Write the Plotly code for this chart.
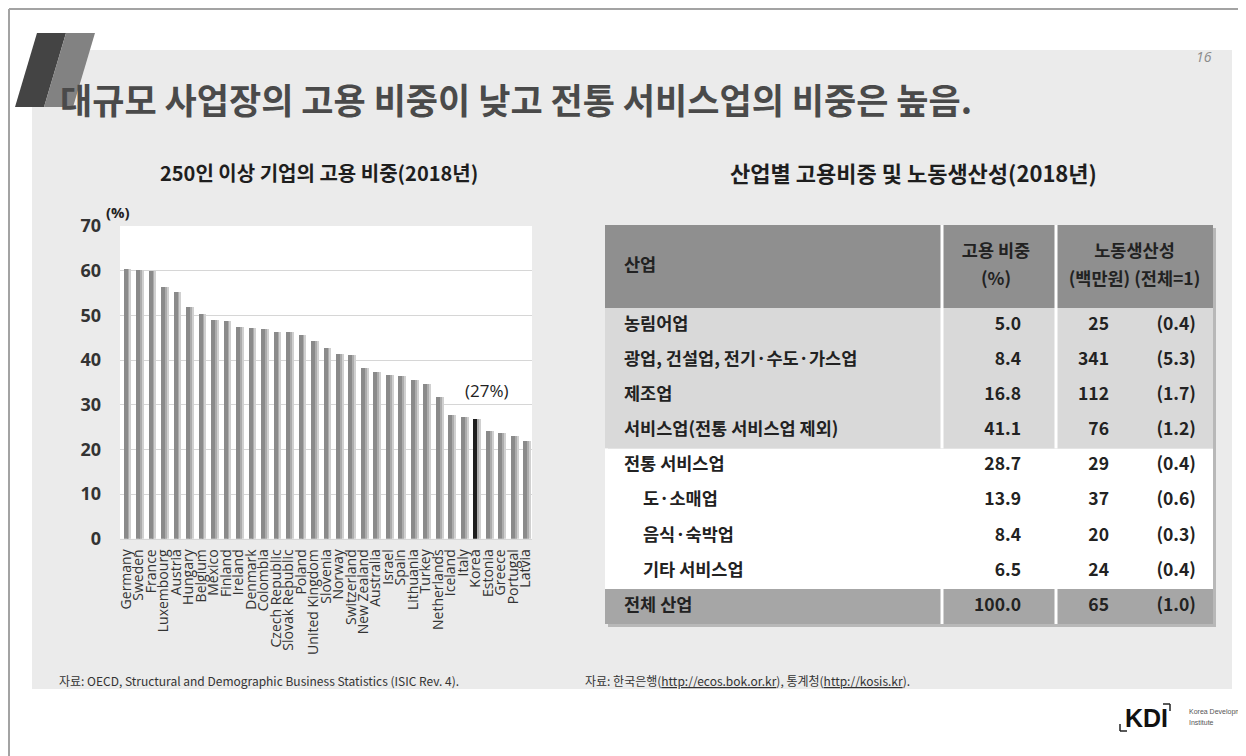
import plotly.graph_objects as go

W, H = 1246, 756
OX, OY = 8, 8   # page offset of the plot div in the browser window

# ---------------- data ----------------
countries = ["Germany", "Sweden", "France", "Luxembourg", "Austria", "Hungary", "Belgium",
             "Mexico", "Finland", "Ireland", "Denmark", "Colombia", "Czech Republic",
             "Slovak Republic", "Poland", "United Kingdom", "Slovenia", "Norway",
             "Switzerland", "New Zealand", "Australia", "Israel", "Spain", "Lithuania",
             "Turkey", "Netherlands", "Iceland", "Italy", "Korea", "Estonia", "Greece",
             "Portugal", "Latvia"]
shares = [60.4, 60.2, 60.0, 56.3, 55.2, 51.9, 50.2, 49.0, 48.7, 47.4, 47.2, 46.9, 46.3,
          46.3, 45.7, 44.3, 42.7, 41.3, 41.1, 38.3, 37.3, 36.6, 36.5, 35.5, 34.7, 31.8,
          27.8, 27.2, 26.9, 24.0, 23.6, 22.9, 21.8]
highlight = "Korea"
highlight_label = "(27%)"
y_ticks = [0, 10, 20, 30, 40, 50, 60, 70]

industries = ["농림어업", "광업, 건설업, 전기·수도·가스업", "제조업",
              "서비스업(전통 서비스업 제외)", "전통 서비스업", "도·소매업",
              "음식·숙박업", "기타 서비스업", "전체 산업"]
is_sub_row = [False, False, False, False, False, True, True, True, False]
emp_share = [5.0, 8.4, 16.8, 41.1, 28.7, 13.9, 8.4, 6.5, 100.0]
productivity = [25, 341, 112, 76, 29, 37, 20, 24, 65]
prod_ratio = [0.4, 5.3, 1.7, 1.2, 0.4, 0.6, 0.3, 0.4, 1.0]
header_first = "산업"
header_top = ["고용 비중", "노동생산성"]
header_bottom = ["(%)", "(백만원) (전체=1)"]

title = "대규모 사업장의 고용 비중이 낮고 전통 서비스업의 비중은 높음."
left_title = "250인 이상 기업의 고용 비중(2018년)"
right_title = "산업별 고용비중 및 노동생산성(2018년)"
left_source = "자료: OECD, Structural and Demographic Business Statistics (ISIC Rev. 4)."
right_source = ('자료: 한국은행(<span style="text-decoration:underline">http://ecos.bok.or.kr</span>), '
                '통계청(<span style="text-decoration:underline">http://kosis.kr</span>).')
page_no = "16"

# ---------------- helpers ----------------
KR = "Noto Sans CJK KR, Noto Sans, sans-serif"
LAT = "Open Sans, Noto Sans, sans-serif"


def fx(px):
    return (px - OX) / W


def fy(py):
    return 1 - (py - OY) / H


# plot area of the bar chart (window pixels)
PL, PR, PT, PB = 120, 532, 226, 538.7
# table area (window pixels)
TL, TR, TT, TB = 605, 1213, 225, 624
HEAD_B = 308
n_rows = len(industries)
row_h = (TB - HEAD_B) / n_rows
COL1, COL2 = 942, 1056

fig = go.Figure()

# bars: light shadow, mid shadow, main bar
fig.add_trace(go.Bar(x=countries, y=shares, offset=0.12, width=0.3,
                     marker=dict(color="#d0d0d0", line_width=0), hoverinfo="skip"))
fig.add_trace(go.Bar(x=countries, y=shares, offset=0.1, width=0.16,
                     marker=dict(color="#acacac", line_width=0), hoverinfo="skip"))
main_colors = ["#1e1e1e" if c == highlight else "#8a8a8a" for c in countries]
fig.add_trace(go.Bar(x=countries, y=shares, offset=-0.2, width=0.32,
                     marker=dict(color=main_colors, line_width=0)))

# ---------------- table text ----------------
row_y = [HEAD_B + row_h * (i + 0.5) for i in range(n_rows)]
txt_font = dict(family=KR, size=17.5, color="#222222", weight="bold")

fig.add_trace(go.Scatter(
    x=[643 if s else 624 for s in is_sub_row], y=row_y, mode="text",
    text=industries, textposition="middle right", textfont=txt_font,
    xaxis="x2", yaxis="y2", cliponaxis=False, hoverinfo="skip"))
fig.add_trace(go.Scatter(
    x=[1021] * n_rows, y=row_y, mode="text",
    text=[f"{v:.1f}" for v in emp_share], textposition="middle left", textfont=txt_font,
    xaxis="x2", yaxis="y2", cliponaxis=False, hoverinfo="skip"))
fig.add_trace(go.Scatter(
    x=[1109] * n_rows, y=row_y, mode="text",
    text=[f"{v}" for v in productivity], textposition="middle left", textfont=txt_font,
    xaxis="x2", yaxis="y2", cliponaxis=False, hoverinfo="skip"))
fig.add_trace(go.Scatter(
    x=[1196] * n_rows, y=row_y, mode="text",
    text=[f"({v:.1f})" for v in prod_ratio], textposition="middle left", textfont=txt_font,
    xaxis="x2", yaxis="y2", cliponaxis=False, hoverinfo="skip"))
# header
head_mid = (TT + HEAD_B) / 2
fig.add_trace(go.Scatter(
    x=[624], y=[head_mid], mode="text", text=[header_first], textposition="middle right",
    textfont=txt_font, xaxis="x2", yaxis="y2", cliponaxis=False, hoverinfo="skip"))
fig.add_trace(go.Scatter(
    x=[(COL1 + COL2) / 2 - 3, (COL2 + TR) / 2], y=[head_mid - 14, head_mid - 14], mode="text",
    text=header_top, textposition="middle center",
    textfont=txt_font, xaxis="x2", yaxis="y2", cliponaxis=False, hoverinfo="skip"))
fig.add_trace(go.Scatter(
    x=[(COL1 + COL2) / 2 - 3, (COL2 + TR) / 2], y=[head_mid + 14, head_mid + 14], mode="text",
    text=header_bottom, textposition="middle center",
    textfont=txt_font, xaxis="x2", yaxis="y2", cliponaxis=False, hoverinfo="skip"))

# ---------------- shapes ----------------
shapes = []


def rect(x0, y0, x1, y1, color):
    shapes.append(dict(type="rect", xref="paper", yref="paper", x0=fx(x0), x1=fx(x1),
                       y0=fy(y1), y1=fy(y0), fillcolor=color, line_width=0, layer="below"))


def line(x0, y0, x1, y1, color, w):
    shapes.append(dict(type="line", xref="paper", yref="paper", x0=fx(x0), x1=fx(x1),
                       y0=fy(y0), y1=fy(y1), line=dict(color=color, width=w), layer="below"))


def poly(pts, color):
    path = "M " + " L ".join(f"{fx(x)},{fy(y)}" for x, y in pts) + " Z"
    shapes.append(dict(type="path", xref="paper", yref="paper", path=path,
                       fillcolor=color, line_width=0, layer="below"))


rect(32, 50, 1232, 689, "#ebebeb")            # grey slide panel
rect(PL, PT, PR, PB, "#ffffff")               # chart plot area
rect(TL + 3, TT + 3, TR + 3, TB + 3, "#b8b8b8")  # table shadow
rect(TL, TT, TR, HEAD_B, "#8f8f8f")           # header
rect(TL, HEAD_B, TR, HEAD_B + 4 * row_h, "#d9d9d9")
rect(TL, HEAD_B + 4 * row_h, TR, HEAD_B + 8 * row_h, "#ffffff")
rect(TL, HEAD_B + 8 * row_h, TR, TB, "#a6a6a6")
for cx in (COL1, COL2):
    line(cx, TT, cx, HEAD_B + 4 * row_h, "#ffffff", 3)
    line(cx, HEAD_B + 8 * row_h, cx, TB, "#ffffff", 3)
# slanted title marks
poly([(37, 33), (66, 33), (44, 107), (15, 107)], "#444444")
poly([(66, 33), (95, 33), (73, 107), (44, 107)], "#828282")
# slide border
line(9, 9, W + OX, 9, "#a3a3a3", 2)
line(9, 9, 9, H + OY, "#a3a3a3", 2)
# KDI logo brackets
line(1163, 704, 1170, 704, "#222222", 1.5)
line(1170, 704, 1170, 711, "#222222", 1.5)
line(1120, 724, 1120, 731, "#222222", 1.5)
line(1120, 731, 1127, 731, "#222222", 1.5)

# ---------------- annotations ----------------
ann = []


def text(x, y, s, size, color="#222222", weight="normal", family=KR, xanchor="center",
         style="normal"):
    ann.append(dict(x=fx(x), y=fy(y), xref="paper", yref="paper", text=s, showarrow=False,
                    xanchor=xanchor, yanchor="middle",
                    font=dict(family=family, size=size, color=color, weight=weight,
                              style=style)))


text(58, 99, title, 35, "#4a4a4a", "bold", xanchor="left")
text(1204, 57, page_no, 14, "#8a8a8a", family=LAT, style="italic")
text(319, 172, left_title, 20, "#1e1e1e", "bold")
text(913, 172, right_title, 22, "#1e1e1e", "bold")
text(118, 212, "(%)", 15, "#222222", "bold", family=LAT)
text(57, 680, left_source, 12, "#333333", xanchor="left")
text(583, 680, right_source, 12, "#333333", xanchor="left")
text(1146, 718, "KDI", 25, "#111111", "bold", family="Liberation Sans, Arial, sans-serif")
text(1187, 712, "Korea Development", 7, "#555555", xanchor="left",
     family="Liberation Sans Narrow, Liberation Sans, sans-serif")
text(1187, 722, "Institute", 7, "#555555", xanchor="left",
     family="Liberation Sans Narrow, Liberation Sans, sans-serif")

k = countries.index(highlight)
ann.append(dict(x=highlight, y=shares[k] + 6.3, xref="x", yref="y", text=highlight_label,
                showarrow=False, xshift=11, font=dict(family=LAT, size=17, color="#222222")))

fig.update_layout(
    width=W, height=H, autosize=False,
    margin=dict(l=0, r=0, t=0, b=0, pad=0),
    paper_bgcolor="#ffffff", plot_bgcolor="rgba(0,0,0,0)",
    showlegend=False, barmode="overlay", bargap=0,
    shapes=shapes, annotations=ann,
    xaxis=dict(domain=[fx(PL), fx(PR)], range=[-0.5, len(countries) - 0.5],
               tickmode="array", tickvals=countries, ticktext=countries,
               tickangle=-90, tickfont=dict(family=LAT, size=14, color="#333333"),
               showgrid=False, showline=True, linecolor="#d6d6d6", linewidth=1,
               ticks="", ticklabelstandoff=4, fixedrange=True, automargin=False),
    yaxis=dict(domain=[fy(PB), fy(PT)], range=[0, 70], tickvals=y_ticks,
               tickfont=dict(family=LAT, size=18, color="#333333", weight="bold"),
               showgrid=True, gridcolor="#d6d6d6", gridwidth=1, zeroline=False,
               showline=False, ticks="", ticklabelstandoff=18, fixedrange=True,
               automargin=False),
    xaxis2=dict(domain=[fx(TL), fx(TR)], range=[TL, TR], visible=False, anchor="y2",
                fixedrange=True, automargin=False),
    yaxis2=dict(domain=[fy(TB), fy(TT)], range=[TB, TT], visible=False, anchor="x2",
                fixedrange=True, automargin=False),
)

fig.write_html("out.html")
